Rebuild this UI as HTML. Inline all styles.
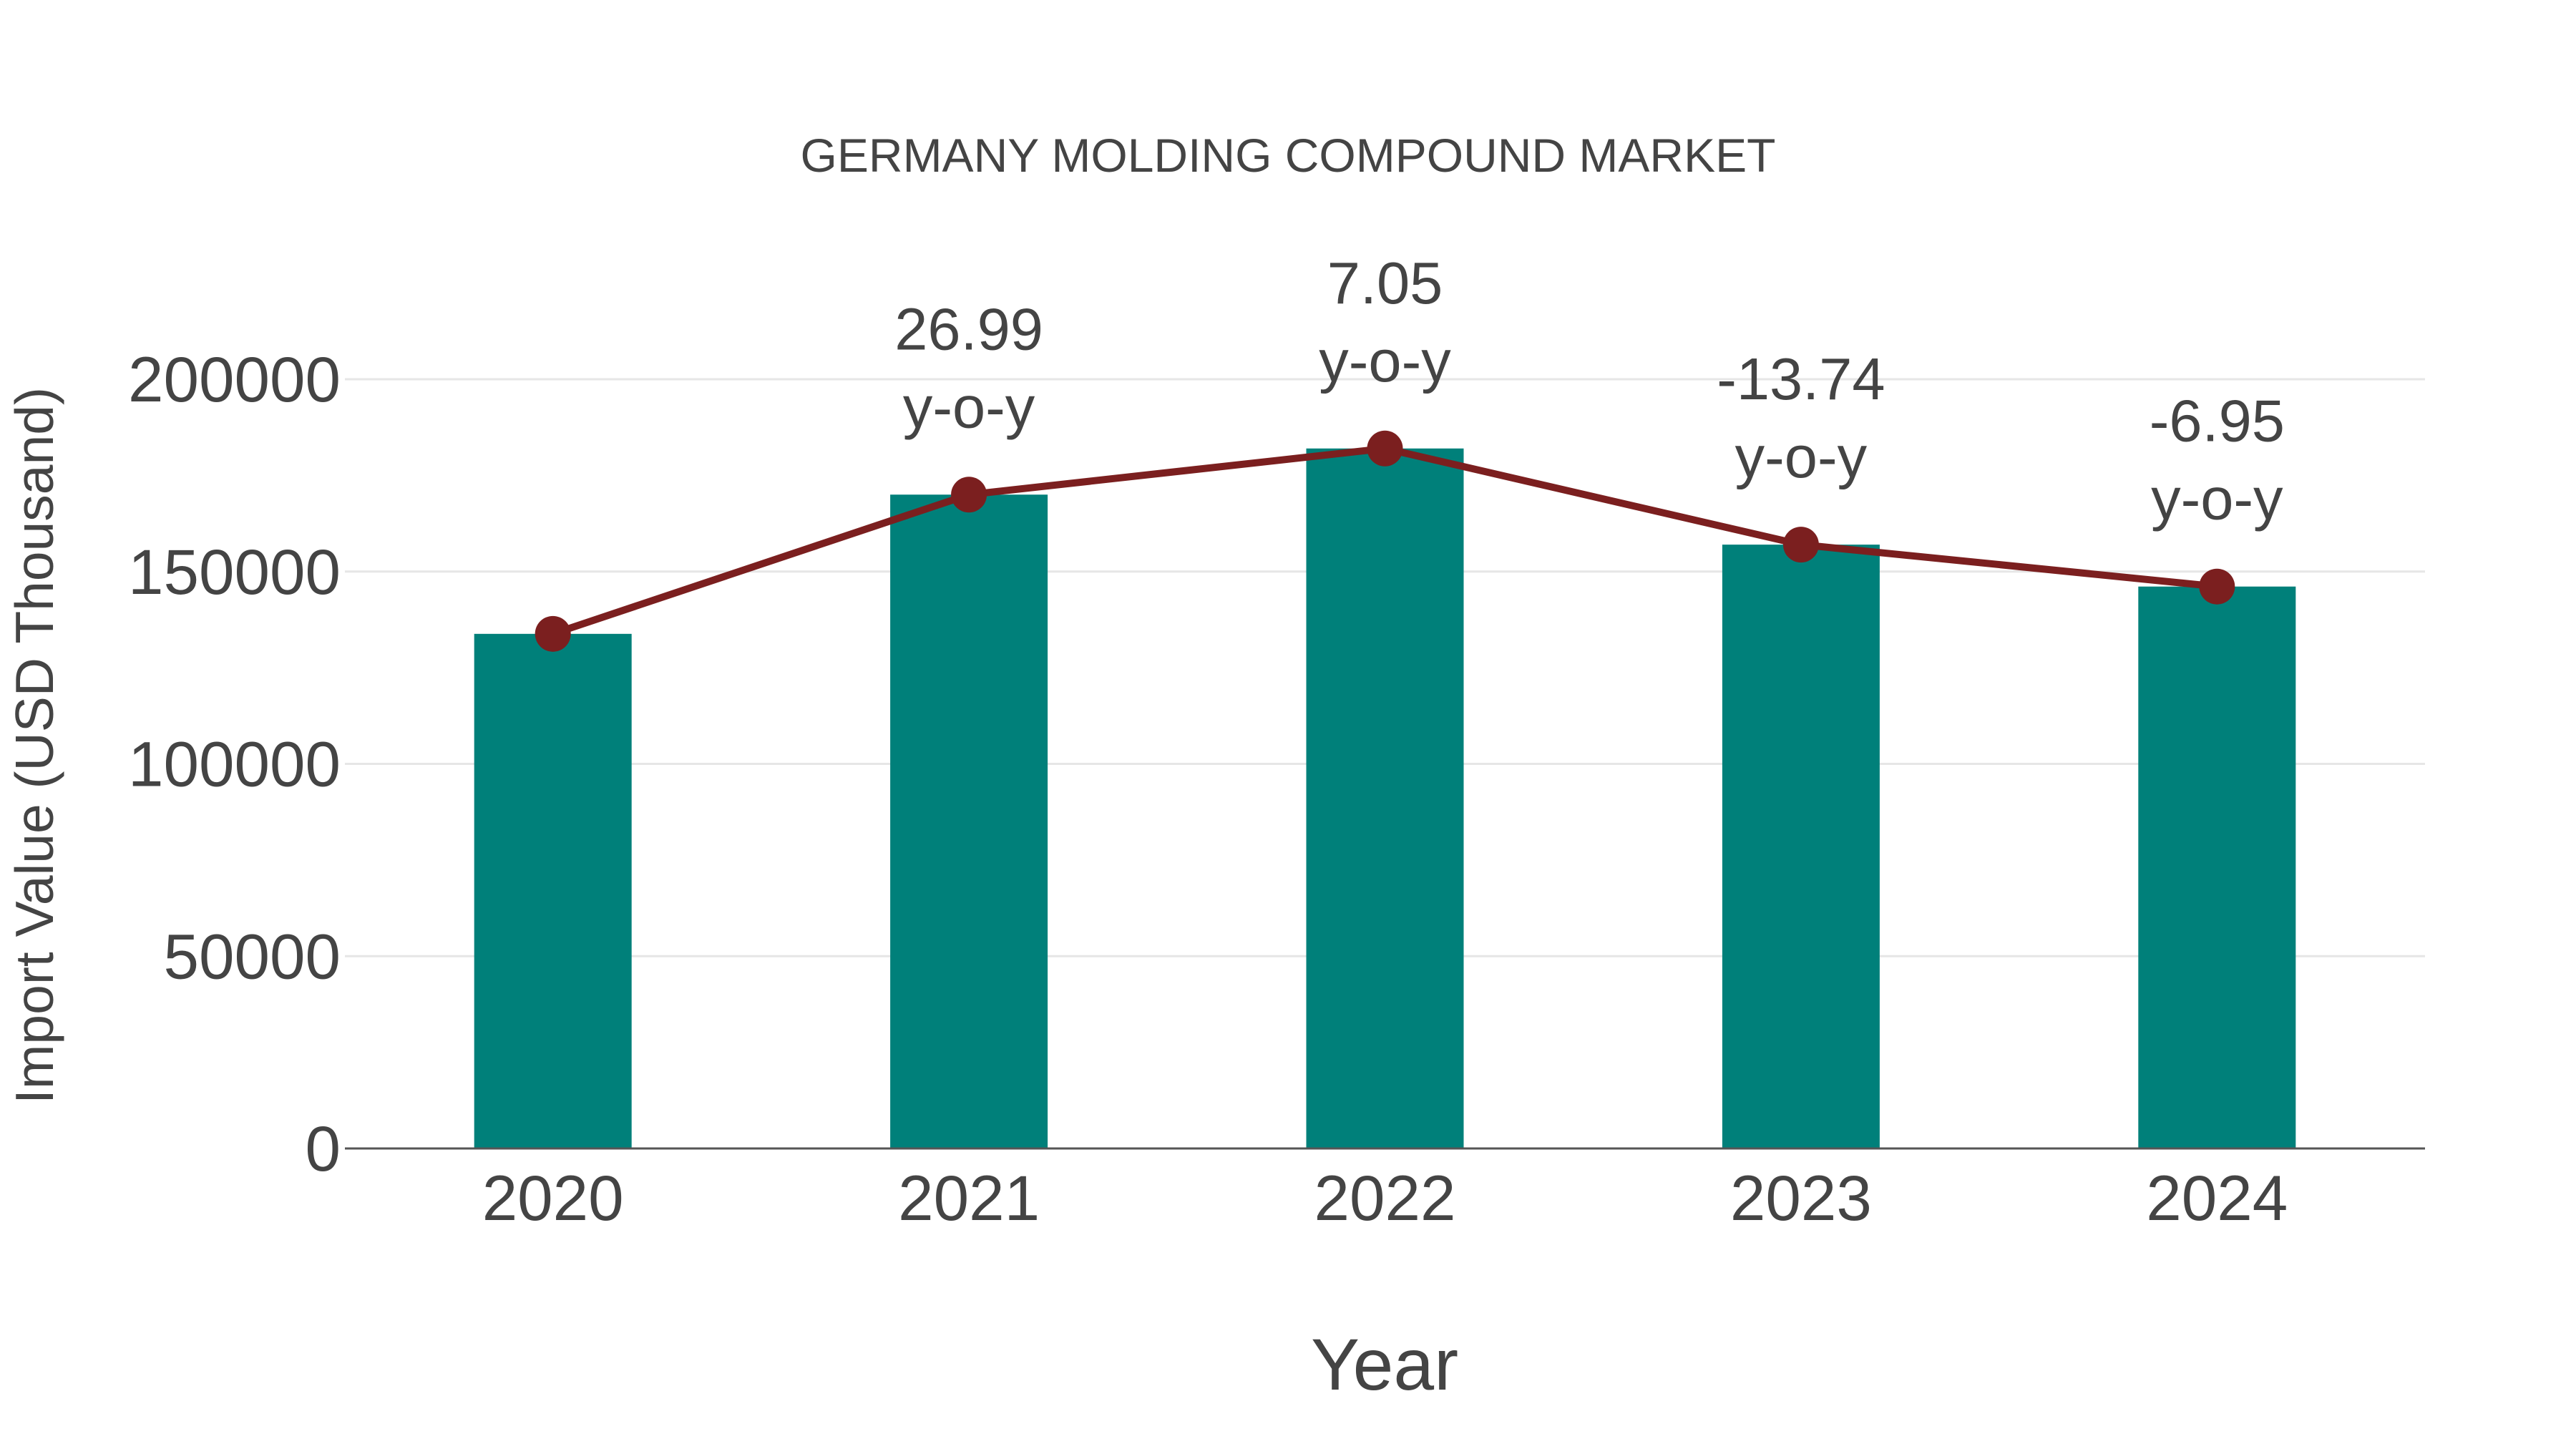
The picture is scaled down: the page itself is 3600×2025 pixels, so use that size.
<!DOCTYPE html>
<html><head><meta charset="utf-8"><style>
html,body{margin:0;padding:0;background:#fff}
svg{display:block;font-family:"Liberation Sans",Arial,sans-serif}
</style></head><body>
<svg id="chart" width="3600" height="2025" viewBox="0 0 3600 2025">
<text x="1800" y="240" text-anchor="middle" font-size="66" fill="#444">GERMANY MOLDING COMPOUND MARKET</text>
<g id="grid"></g>
<g id="bars"></g>
<g id="line"></g>
<g id="ann"></g>
<g id="xt"></g>
<text x="1935" y="1942" text-anchor="middle" font-size="102" fill="#444">Year</text>
<text transform="translate(74,1042) rotate(-90)" text-anchor="middle" font-size="75" fill="#444">Import Value (USD Thousand)</text>
</svg>
<script>
const categories=["2020","2021","2022","2023","2024"];
const values=[133800,170000,182000,157000,146100];
const yoyLabels=["","26.99","7.05","-13.74","-6.95"];
const yTicks=[0,50000,100000,150000,200000];
const NS="http://www.w3.org/2000/svg";
const L=482,R=3389,Y0=1605,Y200=530;
const band=(R-L)/categories.length;
const x=i=>L+band*(i+0.5);
const y=v=>Y0-(v/200000)*(Y0-Y200);
function mk(tag,attrs,parent,text){const e=document.createElementNS(NS,tag);for(const k in attrs)e.setAttribute(k,attrs[k]);if(text!==undefined)e.textContent=text;document.getElementById(parent).appendChild(e);return e;}
yTicks.forEach(t=>{
  if(t>0){const g=mk("line",{x1:L,x2:R,y1:y(t),y2:y(t),stroke:"#e6e6e6","stroke-width":3},"grid");
  
  }
  const tl=mk("text",{x:L-6,y:y(t)+31,"text-anchor":"end","font-size":89,fill:"#444"},"grid",String(t));
  
  
});
const ax=mk("line",{x1:L,x2:R,y1:Y0,y2:Y0,stroke:"#555","stroke-width":3},"xt");


const bw=220;
values.forEach((v,i)=>{
  const b=mk("rect",{x:x(i)-bw/2,y:y(v),width:bw,height:Y0-y(v),fill:"#00807a"},"bars");
  
  
  const xl=mk("text",{x:x(i),y:Y0+100,"text-anchor":"middle","font-size":89,fill:"#444"},"xt",categories[i]);
  
  
});
const pl=mk("polyline",{points:values.map((v,i)=>x(i)+","+y(v)).join(" "),fill:"none",stroke:"#7b1f1f","stroke-width":10},"line");


values.forEach((v,i)=>{
  const c=mk("circle",{cx:x(i),cy:y(v),r:25,fill:"#7b1f1f"},"line");
  
  
  if(yoyLabels[i]){
    const t1=mk("text",{x:x(i),y:y(v)-203,"text-anchor":"middle","font-size":83,fill:"#444"},"ann",yoyLabels[i]);
    
    
    const t2=mk("text",{x:x(i),y:y(v)-94,"text-anchor":"middle","font-size":83,fill:"#444"},"ann","y-o-y");
    
    
  }
});
</script>
</body></html>
